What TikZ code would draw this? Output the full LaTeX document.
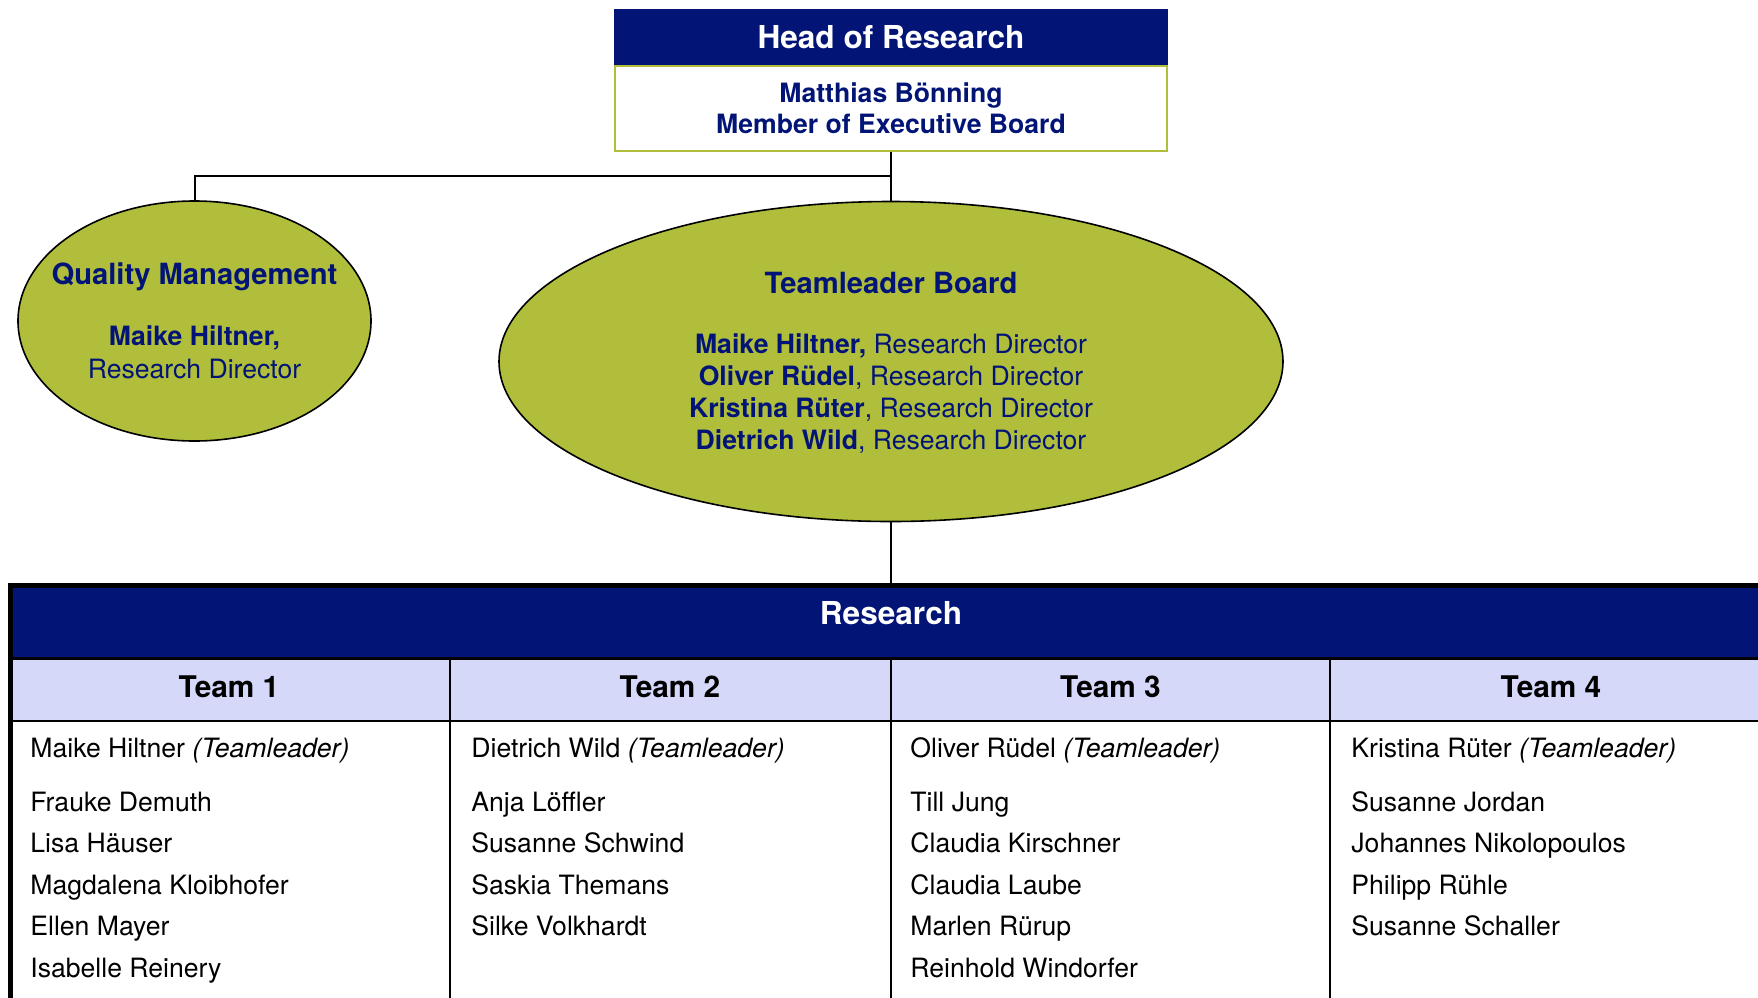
\documentclass[tikz,border=0pt]{standalone}
\usepackage{fontspec}
\setmainfont{TeX Gyre Heros}
\usetikzlibrary{shapes.geometric}
\definecolor{navy}{RGB}{2,20,118}
\definecolor{olivegreen}{RGB}{176,190,60}
\definecolor{lav}{RGB}{214,216,250}
\begin{document}
\begin{tikzpicture}[x=0.5pt,y=-0.5pt,
  conn/.style={draw=black,line width=1pt},
  oval/.style={ellipse,draw=black,line width=0.8pt,fill=olivegreen,inner sep=0pt},
  bigtitle/.style={anchor=base,text=white,font=\fontsize{15.8}{18}\selectfont\bfseries,inner sep=0pt},
  ovaltitle/.style={anchor=base,text=navy,font=\fontsize{14.6}{17}\selectfont\bfseries,inner sep=0pt},
  navybody/.style={anchor=base,text=navy,font=\fontsize{13.3}{16}\selectfont,inner sep=0pt},
  teamtitle/.style={anchor=base,text=black,font=\fontsize{14.9}{17}\selectfont\bfseries,inner sep=0pt},
  person/.style={anchor=base west,text=black,font=\fontsize{13.3}{16}\selectfont,inner sep=0pt},
  cell/.style={rectangle,inner sep=0pt,draw=none},
  divider/.style={draw=black,line width=1pt}]
\useasboundingbox (0,0) rectangle (1758,997);
\fill[white] (0,0) rectangle (1758,997);
\begin{scope}
\clip (0,0) rectangle (1758,997);

% Head of Research box
\node[cell,fill=navy,minimum width=277pt,minimum height=28.5pt] (headtop) at (891,37.5) {};
\node[cell,draw=olivegreen,line width=0.9pt,fill=white,minimum width=276pt,minimum height=42.5pt] (headbody) at (891,108.5) {};
\node[bigtitle] (headtxt) at (891,48) {Head of Research};
\node[navybody,font=\fontsize{13.3}{16}\selectfont\bfseries] (headname) at (891,102) {Matthias Bönning};
\node[navybody,font=\fontsize{13.3}{16}\selectfont\bfseries] (headrole) at (891,133) {Member of Executive Board};

% Ellipses
\node[oval,minimum width=176.5pt,minimum height=120pt] (qm) at (194.5,321) {};
\node[oval,minimum width=392pt,minimum height=160pt] (tb) at (891,361.5) {};

\node[ovaltitle] (qmtitle) at (194.5,284) {Quality Management};
\node[navybody,font=\fontsize{13.3}{16}\selectfont\bfseries] (qmname) at (194.5,345) {Maike Hiltner,};
\node[navybody] (qmrole) at (194.5,378) {Research Director};

\node[ovaltitle] (tbtitle) at (891,293) {Teamleader Board};
\node[navybody] (tb1) at (891,353) {\textbf{Maike Hiltner,} Research Director};
\node[navybody] (tb2) at (891,385) {\textbf{Oliver Rüdel}, Research Director};
\node[navybody] (tb3) at (891,417) {\textbf{Kristina Rüter}, Research Director};
\node[navybody] (tb4) at (891,449) {\textbf{Dietrich Wild}, Research Director};

% Connectors
\coordinate (split) at (891,176);
\draw[conn] (headbody.south) -- (tb.north);
\draw[conn] (split) -| (qm.north);

% Research table
\node[cell,fill=navy,minimum width=900pt,minimum height=36pt] (band) at (908,622.5) {};
\node[cell,fill=lav,minimum width=900pt,minimum height=30pt] (teamrow) at (908,690) {};
\coordinate (tabletop) at (891,585.5);
\draw[conn] (tb.south) -- (tabletop);
\draw[line width=1.5pt] (8,658.5) -- (1800,658.5);
\draw[line width=1pt] (8,721) -- (1800,721);
\draw[divider] (450,659) -- (450,1010);
\draw[divider] (891,659) -- (891,1010);
\draw[divider] (1330,659) -- (1330,1010);
\draw[line width=2.5pt] (10.5,1010) -- (10.5,585.5) -- (1800,585.5);

\node[bigtitle] (restxt) at (891,624) {Research};
\node[teamtitle] (team1) at (229,697) {Team 1};
\node[teamtitle] (team2) at (670,697) {Team 2};
\node[teamtitle] (team3) at (1110.5,697) {Team 3};
\node[teamtitle] (team4) at (1551,697) {Team 4};

\node[person] (lead1) at (30,757) {Maike Hiltner \textit{(Teamleader)}};
\node[person] (lead2) at (471,757) {Dietrich Wild \textit{(Teamleader)}};
\node[person] (lead3) at (910,757) {Oliver Rüdel \textit{(Teamleader)}};
\node[person] (lead4) at (1351,757) {Kristina Rüter \textit{(Teamleader)}};

\foreach \n [count=\i] in {Frauke Demuth, Lisa Häuser, Magdalena Kloibhofer, Ellen Mayer, Isabelle Reinery}
  \node[person] (a\i) at (30,{811+41.5*(\i-1)}) {\n};
\foreach \n [count=\i] in {Anja Löffler, Susanne Schwind, Saskia Themans, Silke Volkhardt}
  \node[person] (b\i) at (471,{811+41.5*(\i-1)}) {\n};
\foreach \n [count=\i] in {Till Jung, Claudia Kirschner, Claudia Laube, Marlen Rürup, Reinhold Windorfer}
  \node[person] (c\i) at (910,{811+41.5*(\i-1)}) {\n};
\foreach \n [count=\i] in {Susanne Jordan, Johannes Nikolopoulos, Philipp Rühle, Susanne Schaller}
  \node[person] (d\i) at (1351,{811+41.5*(\i-1)}) {\n};
\end{scope}
\end{tikzpicture}
\end{document}
